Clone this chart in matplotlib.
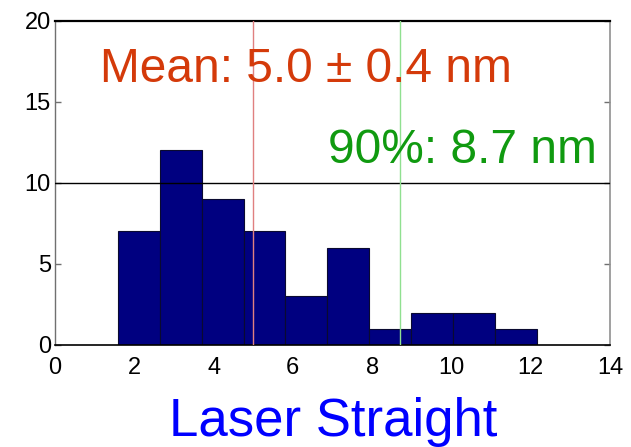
import numpy as np
import matplotlib
matplotlib.use("Agg")
import matplotlib.pyplot as plt

# Histogram of feature widths (nm)
bin_start = 1.59
bin_width = 1.056
counts = [7, 12, 9, 7, 3, 6, 1, 2, 2, 1]
mean_value = 5.0
mean_err = 0.4
p90_value = 8.7
x_ticks = [0, 2, 4, 6, 8, 10, 12, 14]
y_ticks = [0, 5, 10, 15, 20]
title = "Laser Straight"

edges = bin_start + bin_width * np.arange(len(counts) + 1)
centers = (edges[:-1] + edges[1:]) / 2

fig = plt.figure(figsize=(6.31, 4.47), dpi=100)
ax = fig.add_axes([0.0872, 0.2282, 0.8795, 0.7258])

ax.hist(centers, bins=edges, weights=counts, color="#000080",
        edgecolor="#0a0a30", linewidth=0.8, zorder=2)

ax.axhline(10, color="black", linewidth=1.0, zorder=3)
ax.axvline(mean_value, color="#e08080", linewidth=1.0, zorder=3)
ax.axvline(p90_value, color="#90e090", linewidth=1.0, zorder=3)

ax.set_xlim(0, 14)
ax.set_ylim(0, 20)
ax.set_xticks(x_ticks)
ax.set_yticks(y_ticks)

tick_font = ["Liberation Sans Narrow", "Liberation Sans", "DejaVu Sans"]
for lab in ax.get_xticklabels() + ax.get_yticklabels():
    lab.set_family(tick_font)
    lab.set_fontsize(17)

ax.tick_params(axis="y", direction="in", length=4, width=1, color="#707070",
               right=True, pad=3)
ax.tick_params(axis="x", length=0, pad=9)

ax.spines["top"].set_color("black")
ax.spines["top"].set_linewidth(1.6)
ax.spines["bottom"].set_color("black")
ax.spines["bottom"].set_linewidth(1.2)
ax.spines["left"].set_color("#707070")
ax.spines["right"].set_color("#909090")
ax.spines["left"].set_linewidth(1.0)
ax.spines["right"].set_linewidth(1.2)

text_font = ["Liberation Sans", "DejaVu Sans"]
ax.text(1.13, 16.2, f"Mean: {mean_value:.1f} \u00b1 {mean_err:.1f} nm",
        color="#d43a0a", fontsize=34.5, family=text_font, va="baseline", zorder=4)
ax.text(6.89, 11.2, f"90%: {p90_value:.1f} nm",
        color="#109a10", fontsize=34.5, family=text_font, va="baseline", zorder=4)

fig.text(333.5 / 631, 1 - 436 / 447, title, ha="center", va="baseline",
         color="#0000ff", fontsize=38, family=text_font)

fig.savefig("out.png", dpi=100)
